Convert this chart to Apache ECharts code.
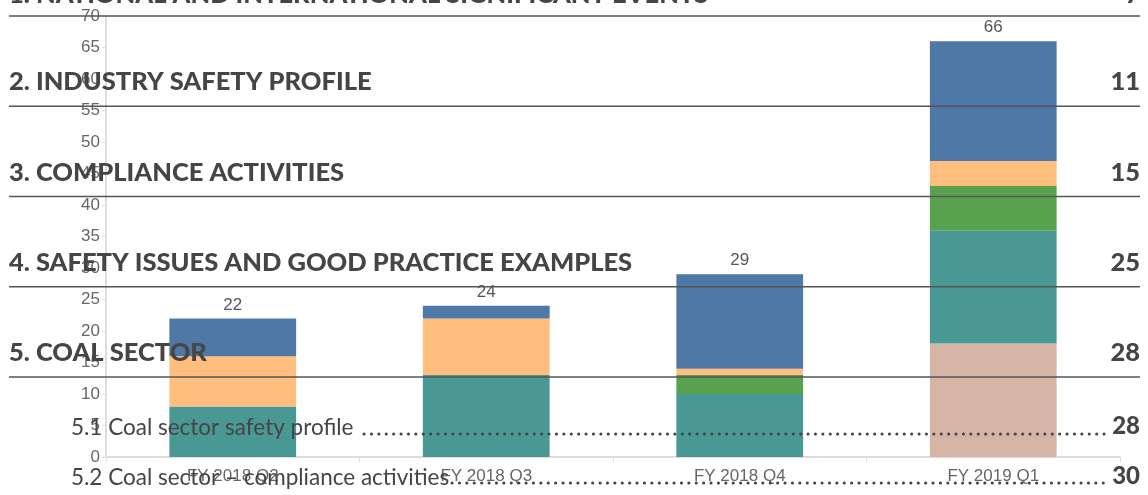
<!DOCTYPE html>
<html>
<head>
<meta charset="utf-8">
<title>Coal sector chart</title>
<script src="https://cdn.jsdelivr.net/npm/echarts@6/dist/echarts.min.js"></script>
<style>
  html, body { margin: 0; padding: 0; background: #fff; }
  #chart { width: 1148px; height: 495px; }
</style>
</head>
<body>
<div id="chart"></div>
<script>
// chart data
var quarters = ['FY 2018 Q2', 'FY 2018 Q3', 'FY 2018 Q4', 'FY 2019 Q1'];
var pinkVals   = [0, 0, 0, 18];
var tealVals   = [8, 13, 10, 18];
var greenVals  = [0, 0, 3, 7];
var orangeVals = [8, 9, 1, 4];
var blueVals   = [6, 2, 15, 19];

// table of contents text laid over the chart
var tocHeadings = ['1. NATIONAL AND INTERNATIONAL SIGNIFICANT EVENTS', '2. INDUSTRY SAFETY PROFILE',
  '3. COMPLIANCE ACTIVITIES', '4. SAFETY ISSUES AND GOOD PRACTICE EXAMPLES', '5. COAL SECTOR'];
var tocPages = ['7', '11', '15', '25', '28'];
var tocSubs = ['5.1 Coal sector safety profile', '5.2 Coal sector \u2013 compliance activities'];
var tocSubPages = ['28', '30'];

var totals = quarters.map(function (q, i) {
  return pinkVals[i] + tealVals[i] + greenVals[i] + orangeVals[i] + blueVals[i];
});

var myChart = echarts.init(document.getElementById('chart'));

function bar(name, data, color) {
  return {
    name: name,
    type: 'bar',
    stack: 'total',
    barWidth: '50%',
    data: data,
    itemStyle: { color: color },
    emphasis: { disabled: true }
  };
}

var series = [
  bar('Category A', pinkVals, '#D7B5A6'),
  bar('Category B', tealVals, '#499894'),
  bar('Category C', greenVals, '#59A14F'),
  bar('Category D', orangeVals, '#FFBE7D'),
  bar('Category E', blueVals, '#4E79A7')
];
// totals on top of the stack
series[4].label = {
  show: true,
  position: 'top',
  distance: 5,
  color: '#555',
  fontSize: 17,
  fontFamily: 'Liberation Sans, Arial, sans-serif',
  formatter: function (p) { return totals[p.dataIndex]; }
};

// toc graphics
var graphics = [];
var headFont = '900 25.5px Lato, sans-serif';
tocHeadings.forEach(function (h, i) {
  var lineY = 16 + i * 90.25;
  var top = lineY - 37 + (i === 0 ? 3 : 0);
  graphics.push({
    type: 'text', z: 100, left: 9, top: top,
    style: { text: h, font: headFont, fill: '#454545' }
  });
  graphics.push({
    type: 'text', z: 100, right: 8, top: top,
    style: { text: tocPages[i], font: headFont, fill: '#454545' }
  });
  graphics.push({
    type: 'line', z: 100,
    shape: { x1: 9, y1: lineY, x2: 1140, y2: lineY },
    style: { stroke: '#555', lineWidth: 1.5 }
  });
});

var subFont = '22.5px Lato, sans-serif';
var subFontB = '900 24px Lato, sans-serif';
tocSubs.forEach(function (s, i) {
  var y = 427 + i * 50;
  graphics.push({
    type: 'text', z: 100, left: 71, top: y - 11,
    style: { text: s, font: subFont, fill: '#454545' }
  });
  graphics.push({
    type: 'text', z: 100, right: 8, top: y - 13,
    style: { text: tocSubPages[i], font: subFontB, fill: '#454545' }
  });
});
// dot leaders
[[364, 434], [452, 483]].forEach(function (d) {
  graphics.push({
    type: 'line', z: 100,
    shape: { x1: d[0], y1: d[1], x2: 1105, y2: d[1] },
    style: { stroke: '#444', lineWidth: 3, lineDash: [0.1, 7.3], lineCap: 'round' }
  });
});

var option = {
  animation: false,
  backgroundColor: '#fff',
  grid: { left: 106, right: 28, top: 16, bottom: 38 },
  xAxis: {
    type: 'category',
    data: quarters,
    axisLine: { lineStyle: { color: '#ddd', width: 2 } },
    axisTick: { show: true, length: 5, lineStyle: { color: '#ddd' } },
    axisLabel: { color: '#666', fontSize: 17, margin: 11, fontFamily: 'Liberation Sans, Arial, sans-serif' }
  },
  yAxis: {
    type: 'value',
    min: 0,
    max: 70,
    interval: 5,
    axisLine: { show: true, lineStyle: { color: '#ddd', width: 2 } },
    axisTick: { show: true, length: 4, lineStyle: { color: '#ddd' } },
    splitLine: { show: false },
    axisLabel: { color: '#666', fontSize: 17, margin: 6, fontFamily: 'Liberation Sans, Arial, sans-serif' }
  },
  series: series,
  graphic: graphics
};

if (option && typeof option === 'object') {
  myChart.setOption(option, true);
}
</script>
</body>
</html>
